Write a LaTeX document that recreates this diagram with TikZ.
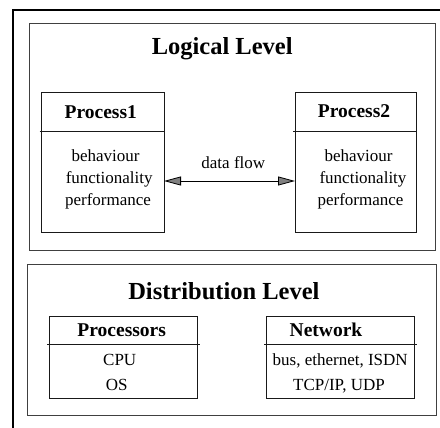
\documentclass[tikz,border=0pt]{standalone}
\usepackage{fontspec}
\setmainfont{Liberation Serif}
\usetikzlibrary{arrows.meta,calc}
\begin{document}
\begin{tikzpicture}[x=1pt,y=-1pt,
  levelbox/.style={draw=black!75, line width=1pt, inner sep=0pt, outer sep=0pt},
  cellbox/.style={draw=black!90, line width=0.9pt, inner sep=0pt, outer sep=0pt},
  leveltitle/.style={anchor=base, inner sep=0pt, font=\bfseries\fontsize{24.5}{29}\selectfont},
  cellhead/.style={anchor=base, inner sep=0pt, font=\bfseries\fontsize{19.5}{23}\selectfont},
  celltext/.style={anchor=base, inner sep=0pt, font=\fontsize{17}{20}\selectfont},
  flowline/.style={draw=black, line width=0.9pt,
    arrows={Triangle[length=17pt,width=9pt,fill=black!50,line width=0.8pt]-Triangle[length=17pt,width=9pt,fill=black!50,line width=0.8pt]}}
]
\useasboundingbox (0,0) rectangle (440,428);

% outer frame (left and top edges)
\draw[line width=1.6pt] (13,432) -- (13,10) -- (444,10);

% level frames
\node[levelbox, minimum width=406pt, minimum height=226.5pt] (logical) at (232,137.25) {};
\node[levelbox, minimum width=409pt, minimum height=151pt] (distrib) at (231.5,339.5) {};
\node[leveltitle] (logicaltitle) at (222.2,55) {Logical Level};
\node[leveltitle] (distribtitle) at (223.9,299.3) {Distribution Level};

% process boxes
\node[cellbox, minimum width=122.3pt, minimum height=140.7pt] (p1) at (102.85,162.35) {};
\node[cellbox, minimum width=121pt, minimum height=140.7pt] (p2) at (355.5,162.35) {};
\draw[cellbox] ($(p1.north west)+(-2,39)$) coordinate (p1sepl) -- (p1sepl -| p1.east);
\draw[cellbox] ($(p2.north west)+(-2,39.5)$) coordinate (p2sepl) -- (p2sepl -| p2.east);

\node[cellhead] (p1head) at (100.8,118.3) {Process1};
\node[celltext] (p1a) at (105.5,161.7) {behaviour};
\node[celltext] (p1b) at (109.2,184) {functionality};
\node[celltext] (p1c) at (108,205) {performance};

\node[cellhead] (p2head) at (354,117.3) {Process2};
\node[celltext] (p2a) at (358.5,161.7) {behaviour};
\node[celltext] (p2b) at (363,183.3) {functionality};
\node[celltext] (p2c) at (360.5,205) {performance};

% data flow between the processes
\coordinate (flowy) at (0,181);
\draw[flowline] (p1.east |- flowy) -- (p2.west |- flowy);
\node[celltext] (flowlabel) at (233.3,168.3) {data flow};

% distribution boxes
\node[cellbox, minimum width=148.5pt, minimum height=81.8pt] (proc) at (123.25,357.6) {};
\node[cellbox, minimum width=148pt, minimum height=81.8pt] (net) at (340,357.6) {};
\draw[cellbox] ($(proc.north west)+(-2,27.3)$) coordinate (procsep) -- ($(procsep -| proc.east)+(2,0)$);
\draw[cellbox] ($(net.north west)+(-2,27.3)$) coordinate (netsep) -- ($(netsep -| net.east)+(3,0)$);

\node[cellhead] (prochead) at (121.7,336.7) {Processors};
\node[celltext] (proca) at (119.7,365) {CPU};
\node[celltext] (procb) at (116.7,390.7) {OS};

\node[cellhead] (nethead) at (326,336.7) {Network};
\node[celltext] (neta) at (340.2,365) {bus, ethernet, ISDN};
\node[celltext] (netb) at (339,390.7) {TCP/IP, UDP};
\end{tikzpicture}
\end{document}
